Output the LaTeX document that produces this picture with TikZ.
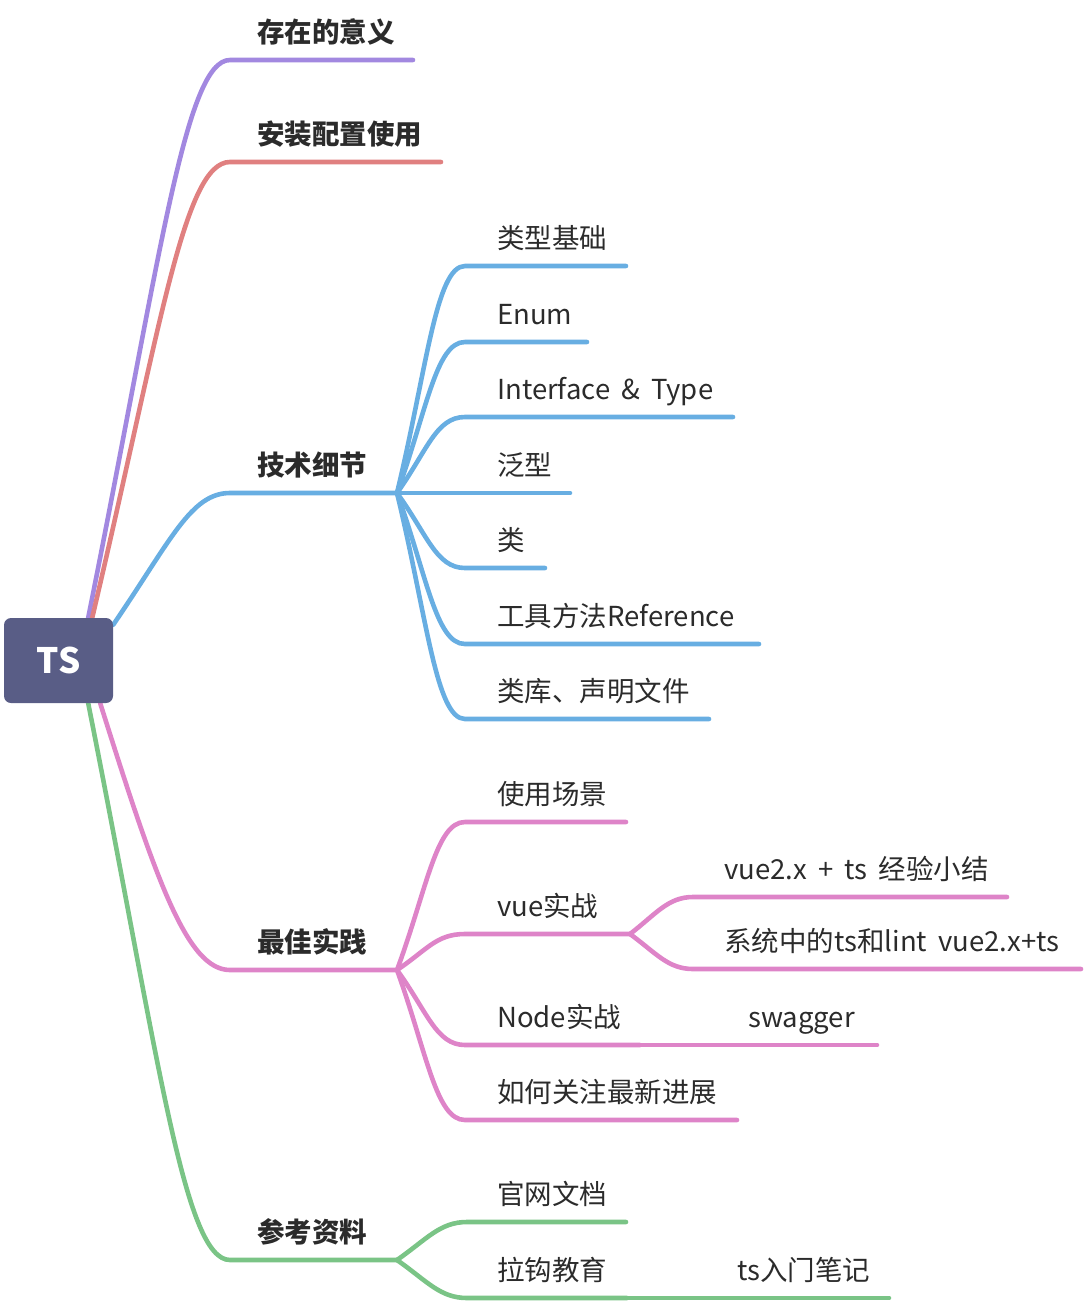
\documentclass[tikz,border=0pt]{standalone}
\usepackage{fontspec}
\setmainfont{Noto Sans CJK SC}[WordSpace=1.8]
\usepackage{tikz}
\usetikzlibrary{backgrounds}
\definecolor{rootslate}{HTML}{595D86}
\definecolor{mmpurple}{HTML}{A288E0}
\definecolor{mmred}{HTML}{E08080}
\definecolor{mmblue}{HTML}{68AEE2}
\definecolor{mmpink}{HTML}{DE84C8}
\definecolor{mmgreen}{HTML}{7AC486}
\definecolor{ink}{HTML}{2B2B2B}

\begin{document}
\begin{tikzpicture}[x=1pt, y=-1pt,
  topic/.style={anchor=base west, inner sep=0pt, text=ink, font=\fontsize{27.5}{33}\selectfont},
  maintopic/.style={topic, font=\fontsize{27.5}{33}\selectfont\bfseries},
  branch/.style={line width=4.6pt, line cap=round}]
\useasboundingbox (0,0) rectangle (1084,1304);
% —— 中心主题 ——
\node[fill=rootslate, rounded corners=7pt, minimum width=109pt, minimum height=85pt,
      text=white, font=\fontsize{35}{40}\selectfont\bfseries] (ts) at (58.5,660.5) {TS};
% —— 一级主题 ——
\coordinate (yiyiS) at (230,60);        \coordinate (yiyiE) at (413,60);
\node[maintopic] (yiyi) at (257,42) {存在的意义};
\coordinate (anzhuangS) at (230,162);   \coordinate (anzhuangE) at (441,162);
\node[maintopic] (anzhuang) at (257,144) {安装配置使用};
\coordinate (jishuS) at (230,493);      \coordinate (jishuE) at (397,493);
\node[maintopic] (jishu) at (257,475) {技术细节};
\coordinate (shijianS) at (230,970);    \coordinate (shijianE) at (397,970);
\node[maintopic] (shijian) at (257,952) {最佳实践};
\coordinate (ziliaoS) at (230,1260);    \coordinate (ziliaoE) at (397,1260);
\node[maintopic] (ziliao) at (257,1242) {参考资料};
% —— 技术细节 ——
\coordinate (leixingS) at (465,266);    \coordinate (leixingE) at (626,266);
\node[topic] (leixing) at (497,248) {类型基础};
\coordinate (enumS) at (465,342);       \coordinate (enumE) at (587,342);
\node[topic] (enum) at (497,324) {Enum};
\coordinate (ifaceS) at (465,417);      \coordinate (ifaceE) at (733,417);
\node[topic] (iface) at (497,399) {Interface \& Type};
\coordinate (fanxingS) at (465,493);    \coordinate (fanxingE) at (570,493);
\node[topic] (fanxing) at (497,475) {泛型};
\coordinate (leiS) at (465,568);        \coordinate (leiE) at (545,568);
\node[topic] (lei) at (497,550) {类};
\coordinate (gongjuS) at (465,644);     \coordinate (gongjuE) at (759,644);
\node[topic] (gongju) at (497,626) {工具方法Reference};
\coordinate (leikuS) at (465,719);      \coordinate (leikuE) at (709,719);
\node[topic] (leiku) at (497,701) {类库、声明文件};
% —— 最佳实践 ——
\coordinate (changjingS) at (465,822);  \coordinate (changjingE) at (626,822);
\node[topic] (changjing) at (497,804) {使用场景};
\coordinate (vueS) at (465,934);        \coordinate (vueE) at (630,934);
\node[topic] (vue) at (497,916) {vue实战};
\coordinate (jingyanS) at (693,897);    \coordinate (jingyanE) at (1007,897);
\node[topic] (jingyan) at (724,879) {vue2.x + ts 经验小结};
\coordinate (lintS) at (693,969);       \coordinate (lintE) at (1081,969);
\node[topic] (lint) at (724,951) {系统中的ts和lint vue2.x+ts};
\coordinate (nodeS) at (465,1045);      \coordinate (nodeE) at (640,1045);
\node[topic] (nodejs) at (497,1027) {Node实战};
\coordinate (swaggerS) at (720,1045);   \coordinate (swaggerE) at (877,1045);
\node[topic] (swagger) at (748,1027) {swagger};
\coordinate (jinzhanS) at (465,1120);   \coordinate (jinzhanE) at (737,1120);
\node[topic] (jinzhan) at (497,1102) {如何关注最新进展};
% —— 参考资料 ——
\coordinate (guanwangS) at (467,1222);  \coordinate (guanwangE) at (626,1222);
\node[topic] (guanwang) at (497,1204) {官网文档};
\coordinate (lagouS) at (467,1298);     \coordinate (lagouE) at (627,1298);
\node[topic] (lagou) at (497,1280) {拉钩教育};
\coordinate (biji) at (709,1298);       \coordinate (bijiE) at (889,1298);
\node[topic] (bijitext) at (737,1280) {ts入门笔记};
% —— 连线 ——
\begin{scope}[on background layer]
\draw[branch, mmpurple] ([xshift=-25]ts.north east) .. controls (160,260) and (185,60) .. (yiyiS) -- (yiyiE);
\draw[branch, mmred] ([xshift=-21]ts.north east) .. controls (161,326) and (184,162) .. (anzhuangS) -- (anzhuangE);
\draw[branch, mmblue] ([yshift=-7]ts.north east) .. controls (171,540) and (191,493) .. (jishuS) -- (jishuE);
\draw[branch, mmpink] ([xshift=-13]ts.south east) .. controls (156,880) and (187,970) .. (shijianS) -- (shijianE);
\draw[branch, mmgreen] ([xshift=-25]ts.south east) .. controls (159,1059) and (184,1260) .. (ziliaoS) -- (ziliaoE);
% 技术细节
\draw[branch, mmblue] (jishuE) .. controls (427,368) and (436,266) .. (leixingS) -- (leixingE);
\draw[branch, mmblue] (jishuE) .. controls (427,410) and (436,342) .. (enumS) -- (enumE);
\draw[branch, mmblue] (jishuE) .. controls (427,451) and (436,417) .. (ifaceS) -- (ifaceE);
\draw[branch, mmblue] (jishuE) -- (fanxingS) -- (fanxingE);
\draw[branch, mmblue] (jishuE) .. controls (427,534) and (436,568) .. (leiS) -- (leiE);
\draw[branch, mmblue] (jishuE) .. controls (427,576) and (436,644) .. (gongjuS) -- (gongjuE);
\draw[branch, mmblue] (jishuE) .. controls (427,617) and (436,719) .. (leikuS) -- (leikuE);
% 最佳实践
\draw[branch, mmpink] (shijianE) .. controls (427,889) and (436,822) .. (changjingS) -- (changjingE);
\draw[branch, mmpink] (shijianE) .. controls (427,950) and (436,934) .. (vueS) -- (vueE);
\draw[branch, mmpink] (vueE) .. controls (656,914) and (668,897) .. (jingyanS) -- (jingyanE);
\draw[branch, mmpink] (vueE) .. controls (656,953) and (668,969) .. (lintS) -- (lintE);
\draw[branch, mmpink] (shijianE) .. controls (427,1011) and (436,1045) .. (nodeS) -- (nodeE);
\draw[branch, mmpink] (nodeE) -- (swaggerS) -- (swaggerE);
\draw[branch, mmpink] (shijianE) .. controls (427,1053) and (436,1120) .. (jinzhanS) -- (jinzhanE);
% 参考资料
\draw[branch, mmgreen] (ziliaoE) .. controls (427,1239) and (440,1222) .. (guanwangS) -- (guanwangE);
\draw[branch, mmgreen] (ziliaoE) .. controls (427,1281) and (440,1298) .. (lagouS) -- (lagouE);
\draw[branch, mmgreen] (lagouE) -- (biji) -- (bijiE);
\end{scope}
\end{tikzpicture}
\end{document}
